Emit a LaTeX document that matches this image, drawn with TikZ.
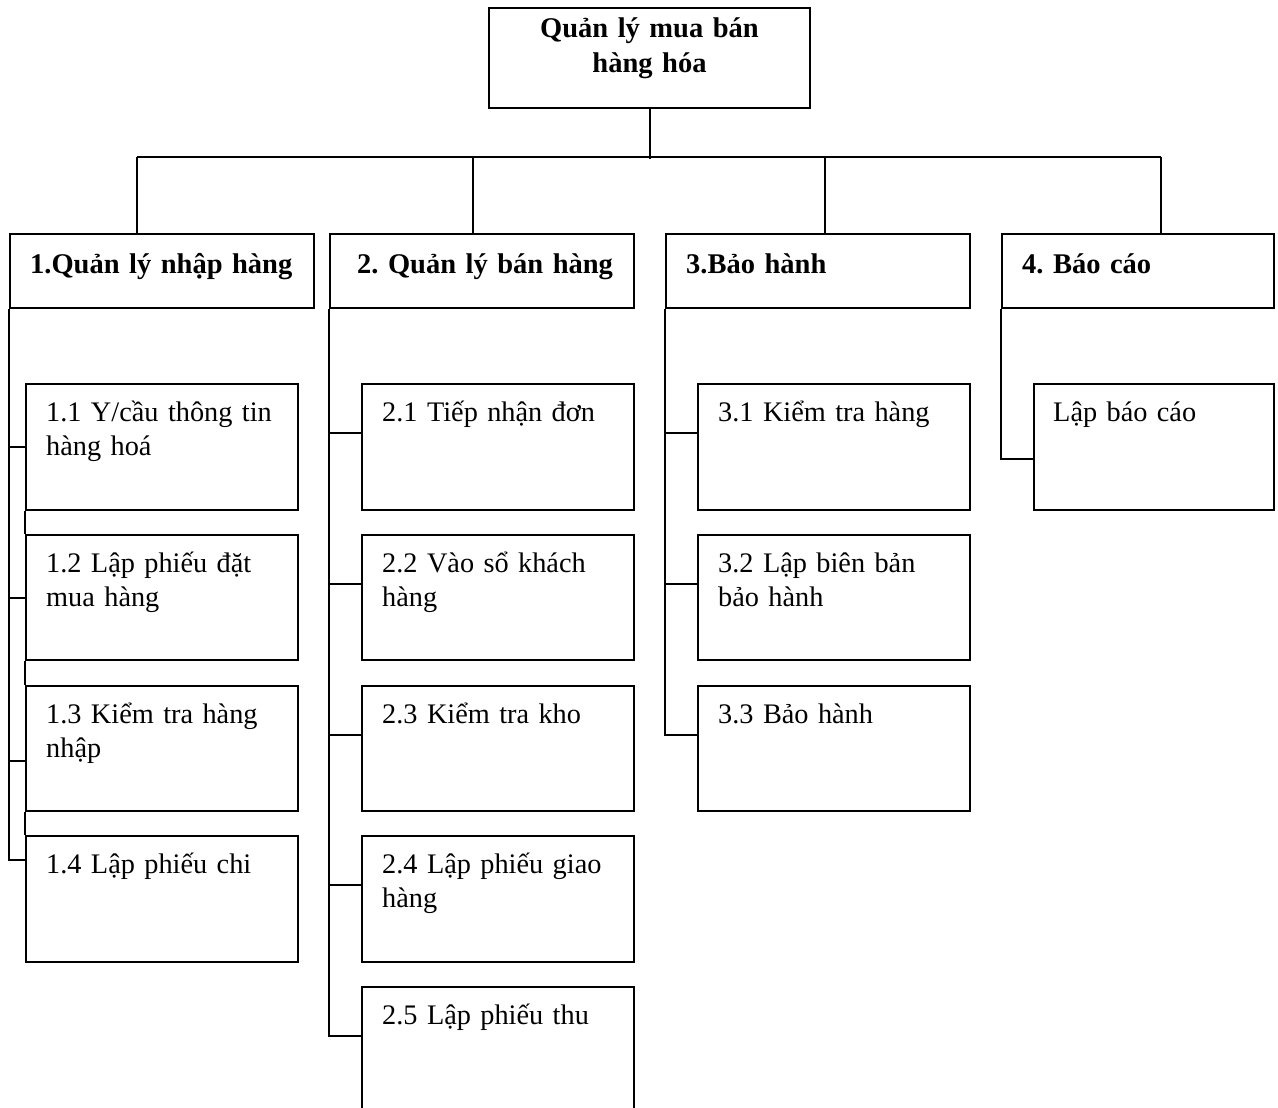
\documentclass[tikz,border=0pt]{standalone}
\usepackage{fontspec}
\setmainfont{Liberation Serif}
\frenchspacing
\begin{document}
\frenchspacing
\begin{tikzpicture}[x=1pt,y=-1pt,
  box/.style={draw, line width=2pt, inner sep=0pt, anchor=north west},
  rootbox/.style={box, minimum width=321pt, minimum height=100pt},
  headbox/.style={box, minimum width=304pt, minimum height=74pt},
  subbox/.style={box, minimum width=272pt, minimum height=126pt},
  link/.style={line width=2pt},
  bus/.style={line width=2.6pt},
  txt/.style={inner sep=0pt, anchor=base west, text width=400pt, align=left,
    font=\fontsize{28.3}{34.5}\selectfont\frenchspacing},
  htxt/.style={txt, font=\fontsize{28.5}{34.5}\selectfont\bfseries\frenchspacing},
  rtxt/.style={inner sep=0pt, anchor=base, text width=310pt, align=center,
    font=\fontsize{28.5}{35}\selectfont\bfseries}
]
\useasboundingbox (0,0) rectangle (1278,1108);
\clip (0,0) rectangle (1278,1108);

% root
\node[rootbox] (root) at (488,7) {};
\node[rtxt] (troot) at ([yshift=-31pt]root.north) {Quản lý mua bán\\hàng hóa};

% first-level functions
\node[headbox] (h1) at (9,233) {};
\node[headbox] (h2) at (329,233) {};
\node[headbox] (h3) at (665,233) {};
\node[headbox, minimum width=272pt] (h4) at (1001,233) {};
\node[htxt] (th1) at ([xshift=21pt,yshift=-40pt]h1.north west) {1.Quản lý nhập hàng};
\node[htxt] (th2) at ([xshift=28pt,yshift=-40pt]h2.north west) {2. Quản lý bán hàng};
\node[htxt] (th3) at ([xshift=21pt,yshift=-40pt]h3.north west) {3.Bảo hành};
\node[htxt] (th4) at ([xshift=21pt,yshift=-40pt]h4.north west) {4. Báo cáo};

% column 1
\node[subbox] (b11) at (25,383) {};
\node[subbox, minimum height=125pt] (b12) at (25,534) {};
\node[subbox, minimum height=125pt] (b13) at (25,685) {};
\node[subbox] (b14) at (25,835) {};
% column 2
\node[subbox] (b21) at (361,383) {};
\node[subbox, minimum height=125pt] (b22) at (361,534) {};
\node[subbox, minimum height=125pt] (b23) at (361,685) {};
\node[subbox] (b24) at (361,835) {};
\node[subbox] (b25) at (361,986) {};
% column 3
\node[subbox] (b31) at (697,383) {};
\node[subbox, minimum height=125pt] (b32) at (697,534) {};
\node[subbox, minimum height=125pt] (b33) at (697,685) {};
% column 4
\node[subbox, minimum width=240pt] (b41) at (1033,383) {};

% labels of the sub-functions
\node[txt] (t11) at ([xshift=21pt,yshift=-38pt]b11.north west) {1.1 Y/cầu thông tin\\hàng hoá};
\node[txt] (t12) at ([xshift=21pt,yshift=-38pt]b12.north west) {1.2 Lập phiếu đặt\\mua hàng};
\node[txt] (t13) at ([xshift=21pt,yshift=-38pt]b13.north west) {1.3 Kiểm tra hàng\\nhập};
\node[txt] (t14) at ([xshift=21pt,yshift=-38pt]b14.north west) {1.4 Lập phiếu chi};
\node[txt] (t21) at ([xshift=21pt,yshift=-38pt]b21.north west) {2.1 Tiếp nhận đơn};
\node[txt] (t22) at ([xshift=21pt,yshift=-38pt]b22.north west) {2.2 Vào sổ khách\\hàng};
\node[txt] (t23) at ([xshift=21pt,yshift=-38pt]b23.north west) {2.3 Kiểm tra kho};
\node[txt] (t24) at ([xshift=21pt,yshift=-38pt]b24.north west) {2.4 Lập phiếu giao\\hàng};
\node[txt] (t25) at ([xshift=21pt,yshift=-38pt]b25.north west) {2.5 Lập phiếu thu};
\node[txt] (t31) at ([xshift=21pt,yshift=-38pt]b31.north west) {3.1 Kiểm tra hàng};
\node[txt] (t32) at ([xshift=21pt,yshift=-38pt]b32.north west) {3.2 Lập biên bản\\bảo hành};
\node[txt] (t33) at ([xshift=21pt,yshift=-38pt]b33.north west) {3.3 Bảo hành};
\node[txt] (t41) at ([xshift=20pt,yshift=-38pt]b41.north west) {Lập báo cáo};

% root to first level
\draw[link] (root.south) -- ++(0,50) coordinate (jc);
\coordinate (j1) at (137,157);
\coordinate (j2) at (473,157);
\coordinate (j3) at (825,157);
\coordinate (j4) at (1161,157);
\draw[bus] (j1) -- (j4);
\draw[link] (j1) -- (j1 |- h1.north);
\draw[link] (j2) -- (j2 |- h2.north);
\draw[link] (j3) -- (j3 |- h3.north);
\draw[link] (j4) -- (j4 |- h4.north);

% column 1 connectors
\coordinate (c11) at (b11.west);
\coordinate (c12) at (b12.west);
\coordinate (c13) at ([yshift=-76pt]b13.north west);
\coordinate (c14) at ([yshift=-25pt]b14.north west);
\draw[link] (h1.south west) |- (c14);
\draw[link] (h1.south west |- c11) -- (c11);
\draw[link] (h1.south west |- c12) -- (c12);
\draw[link] (h1.south west |- c13) -- (c13);
\draw[link] (b11.south west) -- (b12.north west);
\draw[link] (b12.south west) -- (b13.north west);
\draw[link] (b13.south west) -- (b14.north west);

% column 2 connectors
\foreach \b in {b21,b22,b23,b24,b25}
  \coordinate (c\b) at ([yshift=-50pt]\b.north west);
\draw[link] (h2.south west) |- (cb25);
\foreach \b in {b21,b22,b23,b24}
  \draw[link] (h2.south west |- c\b) -- (c\b);

% column 3 connectors
\foreach \b in {b31,b32,b33}
  \coordinate (c\b) at ([yshift=-50pt]\b.north west);
\draw[link] (h3.south west) |- (cb33);
\foreach \b in {b31,b32}
  \draw[link] (h3.south west |- c\b) -- (c\b);

% column 4 connector
\coordinate (cb41) at ([yshift=-76pt]b41.north west);
\draw[link] (h4.south west) |- (cb41);
\end{tikzpicture}
\end{document}
